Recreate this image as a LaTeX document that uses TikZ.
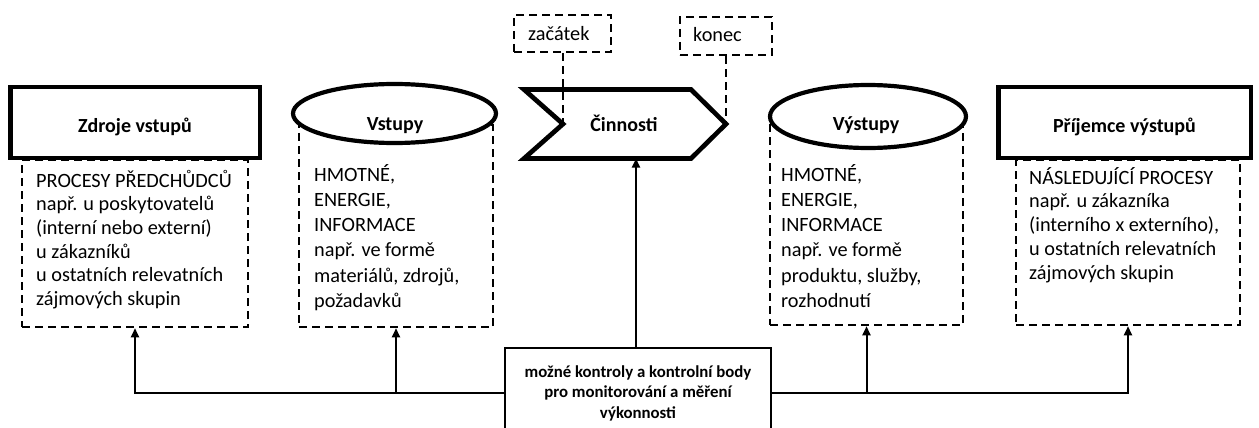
\documentclass[tikz,border=0pt]{standalone}
\usepackage{fontspec}
\setmainfont{Carlito}
\usetikzlibrary{arrows.meta,shapes.geometric}
\begin{document}
\begin{tikzpicture}[x=1pt,y=-1pt,
  heavy/.style={draw, line width=4.5pt, fill=white, inner sep=0pt},
  oval/.style={ellipse, draw, line width=4.2pt, fill=white, inner sep=0pt},
  dashbox/.style={draw, line width=2.5pt, dash pattern=on 8pt off 5pt, inner sep=0pt},
  dashlink/.style={line width=2.2pt, dash pattern=on 8pt off 5pt},
  title/.style={font=\fontsize{20}{24}\selectfont\bfseries, inner sep=0pt},
  bodytext/.style={font=\fontsize{20.3}{23.7}\selectfont, align=left, inner sep=0pt, anchor=base west},
  widetext/.style={font=\fontsize{20.3}{25.3}\selectfont, align=left, inner sep=0pt, anchor=base west},
  smalltext/.style={font=\fontsize{20.3}{24}\selectfont, inner sep=0pt, anchor=base west},
  ctrltext/.style={font=\fontsize{16.8}{20.5}\selectfont\bfseries, align=center, inner sep=0pt, anchor=base},
  link/.style={line width=2pt, -{Triangle[length=9pt,width=8pt]}},
  line join=miter]
\useasboundingbox (0,0) rectangle (1259,428);
\clip (0,0) rectangle (1259,428);

% dashed description boxes (drawn first, headers sit on top of them)
\node[dashbox, minimum width=226pt, minimum height=167pt] (zd) at (135,243.5) {};
\node[dashbox, minimum width=194pt, minimum height=202pt] (vd) at (396,226) {};
\node[dashbox, minimum width=193pt, minimum height=200pt] (yd) at (866.5,225) {};
\node[dashbox, minimum width=224pt, minimum height=165pt] (pd) at (1128,242.5) {};

% headers
\node[heavy, minimum width=249.5pt, minimum height=70.5pt] (zh) at (135,122.5) {};
\node[title] (zht) at (135,127) {Zdroje vstupů};
\node[oval, minimum width=203pt, minimum height=59pt] (vh) at (394.5,113.5) {};
\node[title] (vht) at (395,125.5) {Vstupy};
\node[oval, minimum width=196pt, minimum height=63pt] (yh) at (868,116.5) {};
\node[title] (yht) at (866,125.5) {Výstupy};
\node[heavy, minimum width=252.5pt, minimum height=70.5pt] (ph) at (1124.5,122.5) {};
\node[title] (pht) at (1124.5,127) {Příjemce výstupů};

% activity chevron
\coordinate (notch) at (563,124);
\coordinate (tip) at (726,124);
\coordinate (cinbot) at (636,158.5);
\draw[line width=4.7pt] (524,89.5) -- (691,89.5) -- (tip) -- (691,158.5)
  -- (524,158.5) -- (notch) -- cycle;
\node[title] (cin) at (624,123.5) {Činnosti};

% start / end markers
\node[dashbox, minimum width=97pt, minimum height=37pt] (start) at (562.5,33.5) {};
\node[smalltext] (startt) at (528,40.5) {začátek};
\node[dashbox, minimum width=92pt, minimum height=38pt] (stop) at (726,36) {};
\node[smalltext] (stopt) at (693,42) {konec};
\draw[dashlink] (start.south -| notch) -- (notch);
\draw[dashlink] (stop.south -| tip) -- (tip);

% box texts (anchored on the baseline of their last line)
\node[bodytext] (zdt) at (36,305.5) {PROCESY PŘEDCHŮDCŮ\\např. u poskytovatelů\\(interní nebo externí)\\u zákazníků\\u ostatních relevatních\\zájmových skupin};
\node[widetext] (vdt) at (314,307.5) {HMOTNÉ,\\ENERGIE,\\INFORMACE\\např. ve formě\\materiálů, zdrojů,\\požadavků};
\node[widetext] (ydt) at (781,307.5) {HMOTNÉ,\\ENERGIE,\\INFORMACE\\např. ve formě\\produktu, služby,\\rozhodnutí};
\node[bodytext] (pdt) at (1029,279) {NÁSLEDUJÍCÍ PROCESY\\např. u zákazníka\\(interního x externího),\\u ostatních relevatních\\zájmových skupin};

% control box
\node[draw, line width=2.8pt, fill=white, minimum width=266pt, minimum height=90pt] (ctrl) at (638,393) {};
\node[ctrltext] (ctrlt) at (638,418) {možné kontroly a kontrolní body\\pro monitorování a měření\\výkonnosti};

% connectors
\draw[link] (ctrl.north -| cinbot) -- (cinbot);
\draw[link] (ctrl.west) -| (zd.south);
\draw[link] (ctrl.west) -| (vd.south);
\draw[link] (ctrl.east) -| (yd.south);
\draw[link] (ctrl.east) -| (pd.south);
\end{tikzpicture}
\end{document}
